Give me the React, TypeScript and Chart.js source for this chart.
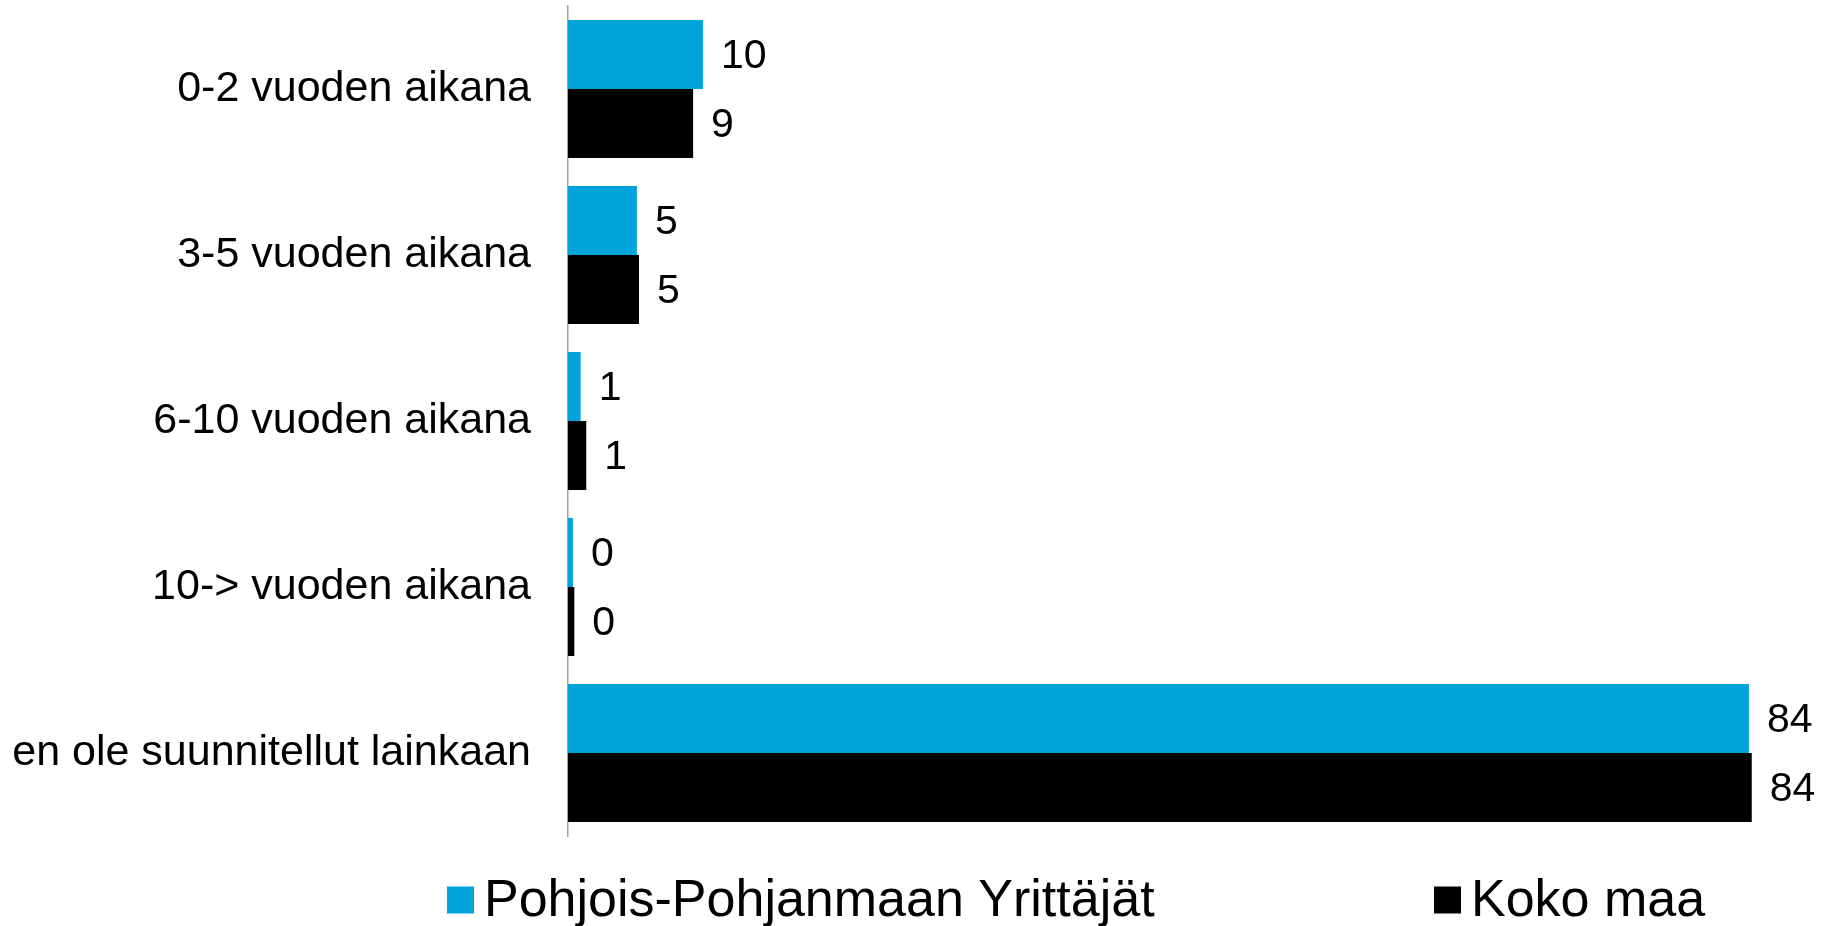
import React, { useEffect, useRef } from "react";
import { Chart, registerables } from "chart.js";

Chart.register(...registerables);

const categories = [
  "0-2 vuoden aikana",
  "3-5 vuoden aikana",
  "6-10 vuoden aikana",
  "10-> vuoden aikana",
  "en ole suunnitellut lainkaan",
];
const seriesNames = ["Pohjois-Pohjanmaan Yrittäjät", "Koko maa"];
const pohjoisValues = [9.6, 4.9, 0.9, 0.35, 84.0];
const kokoMaaValues = [8.9, 5.05, 1.3, 0.45, 84.2];
const seriesColors = ["#00A3DA", "#000000"];

const FONT = "'Liberation Sans', Arial, Helvetica, sans-serif";

const valueLabelPlugin = {
  id: "valueLabels",
  afterDatasetsDraw(chart: any) {
    const ctx = chart.ctx;
    ctx.save();
    ctx.font = `41px ${FONT}`;
    ctx.fillStyle = "#000000";
    ctx.textAlign = "left";
    ctx.textBaseline = "middle";
    chart.data.datasets.forEach((ds: any, di: number) => {
      const meta = chart.getDatasetMeta(di);
      meta.data.forEach((bar: any, i: number) => {
        const v = ds.data[i];
        ctx.fillText(String(Math.round(v)), bar.x + 18, bar.y + 2);
      });
    });
    ctx.restore();
  },
};

const customLegendPlugin = {
  id: "customLegend",
  afterDraw(chart: any) {
    const ctx = chart.ctx;
    const xs = [447, 1434];
    const box = 27;
    const cy = 900;
    ctx.save();
    ctx.font = `52px ${FONT}`;
    ctx.textAlign = "left";
    ctx.textBaseline = "middle";
    chart.data.datasets.forEach((ds: any, i: number) => {
      const x = xs[i];
      ctx.fillStyle = ds.backgroundColor;
      ctx.fillRect(x, cy - box / 2, box, box);
      ctx.fillStyle = "#000000";
      ctx.fillText(ds.label, x + box + 10, cy + 2);
    });
    ctx.restore();
  },
};

export default function App() {
  const ref = useRef<HTMLCanvasElement | null>(null);
  useEffect(() => {
    if (!ref.current) return;
    const chart = new Chart(ref.current, {
      type: "bar",
      data: {
        labels: categories,
        datasets: [
          {
            label: seriesNames[0],
            data: pohjoisValues,
            backgroundColor: seriesColors[0],
            barPercentage: 1,
            categoryPercentage: 0.831,
          },
          {
            label: seriesNames[1],
            data: kokoMaaValues,
            backgroundColor: seriesColors[1],
            barPercentage: 1,
            categoryPercentage: 0.831,
          },
        ],
      },
      options: {
        indexAxis: "y",
        responsive: false,
        animation: false,
        layout: { padding: { top: 6, bottom: 90, left: 0, right: 62 } },
        plugins: {
          legend: { display: false },
          tooltip: { enabled: false },
        },
        scales: {
          x: {
            display: false,
            min: 0,
            max: 85,
          },
          y: {
            afterFit: (scale: any) => {
              scale.width = 568;
              scale.paddingTop = 0;
              scale.paddingBottom = 0;
            },
            grid: { display: false, drawTicks: false },
            border: { display: true, color: "#a0a0a0", width: 1.5 },
            ticks: {
              color: "#000000",
              padding: 37,
              font: { family: FONT, size: 43 },
            },
          },
        },
      },
      plugins: [valueLabelPlugin, customLegendPlugin],
    });
    return () => chart.destroy();
  }, []);
  return (
    <div style={{ position: "fixed", left: 0, top: 0, width: 1825, height: 926, background: "#ffffff" }}>
      <canvas ref={ref} width={1825} height={926} style={{ display: "block" }} />
    </div>
  );
}
